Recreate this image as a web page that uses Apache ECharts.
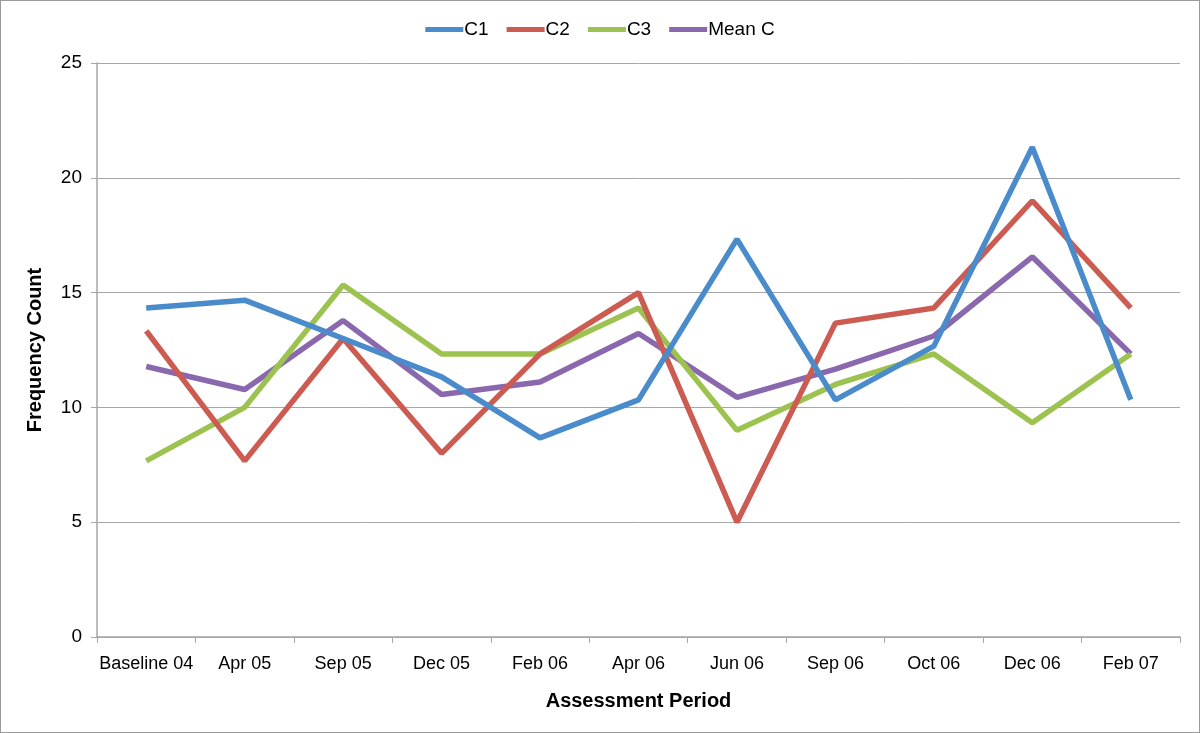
<!DOCTYPE html>
<html>
<head>
<meta charset="utf-8">
<script src="https://cdn.jsdelivr.net/npm/echarts@6/dist/echarts.min.js"></script>
<style>
  html, body { margin: 0; padding: 0; background: #fff; }
  #chart {
    width: 1200px;
    height: 733px;
    box-sizing: border-box;
    border: 1px solid #9a9a9a;
  }
</style>
</head>
<body>
<div id="chart"></div>
<script>
const periods = ["Baseline 04", "Apr 05", "Sep 05", "Dec 05", "Feb 06", "Apr 06",
  "Jun 06", "Sep 06", "Oct 06", "Dec 06", "Feb 07"];

const c1 = [14.33, 14.67, 13.0, 11.33, 8.67, 10.33, 17.33, 10.33, 12.67, 21.33, 10.33];
const c2 = [13.33, 7.67, 13.0, 8.0, 12.33, 15.0, 5.0, 13.67, 14.33, 19.0, 14.33];
const c3 = [7.67, 10.0, 15.33, 12.33, 12.33, 14.33, 9.0, 11.0, 12.33, 9.33, 12.33];
const meanC = [11.78, 10.78, 13.78, 10.56, 11.11, 13.22, 10.44, 11.67, 13.11, 16.56, 12.33];

const seriesNames = ["C1", "C2", "C3", "Mean C"];
const colors = ["#4a8bcb", "#cc5b51", "#9cc24f", "#8a68ae"];

let myChart = echarts.init(document.getElementById("chart"));

function lineSeries(name, data, idx) {
  return {
    name: name,
    type: "line",
    data: data,
    symbol: "none",
    lineStyle: { width: 5.5, color: colors[idx] },
    itemStyle: { color: colors[idx] },
    z: 10 - idx
  };
}

let option = {
  animation: false,
  textStyle: { fontFamily: "Liberation Sans, Arial, sans-serif" },
  color: colors,
  legend: {
    top: 14,
    left: "center",
    itemWidth: 38,
    itemHeight: 5,
    itemGap: 18,
    icon: "rect",
    textStyle: { fontSize: 19, color: "#000", padding: [0, 0, 0, -4] },
    data: seriesNames
  },
  grid: {
    left: 96,
    right: 19,
    top: 62,
    bottom: 95,
    containLabel: false
  },
  xAxis: {
    type: "category",
    data: periods,
    boundaryGap: true,
    name: "Assessment Period",
    nameLocation: "middle",
    nameGap: 54,
    nameTextStyle: { fontSize: 20, fontWeight: "bold", color: "#000" },
    axisLine: { lineStyle: { color: "#a6a6a6", width: 1.5 } },
    axisTick: { show: true, length: 6, lineStyle: { color: "#a6a6a6" } },
    axisLabel: { fontSize: 18, color: "#000", margin: 18, interval: 0 }
  },
  yAxis: {
    type: "value",
    min: 0,
    max: 25,
    interval: 5,
    name: "Frequency Count",
    nameLocation: "middle",
    nameGap: 52,
    nameTextStyle: { fontSize: 20, fontWeight: "bold", color: "#000" },
    axisLine: { show: true, lineStyle: { color: "#a6a6a6", width: 1.5 } },
    axisTick: { show: true, length: 6, lineStyle: { color: "#a6a6a6" } },
    axisLabel: { fontSize: 19, color: "#000", margin: 15 },
    splitLine: { lineStyle: { color: "#a6a6a6", width: 1 } }
  },
  series: [
    lineSeries("C1", c1, 0),
    lineSeries("C2", c2, 1),
    lineSeries("C3", c3, 2),
    lineSeries("Mean C", meanC, 3)
  ]
};

myChart.setOption(option);
</script>
</body>
</html>
